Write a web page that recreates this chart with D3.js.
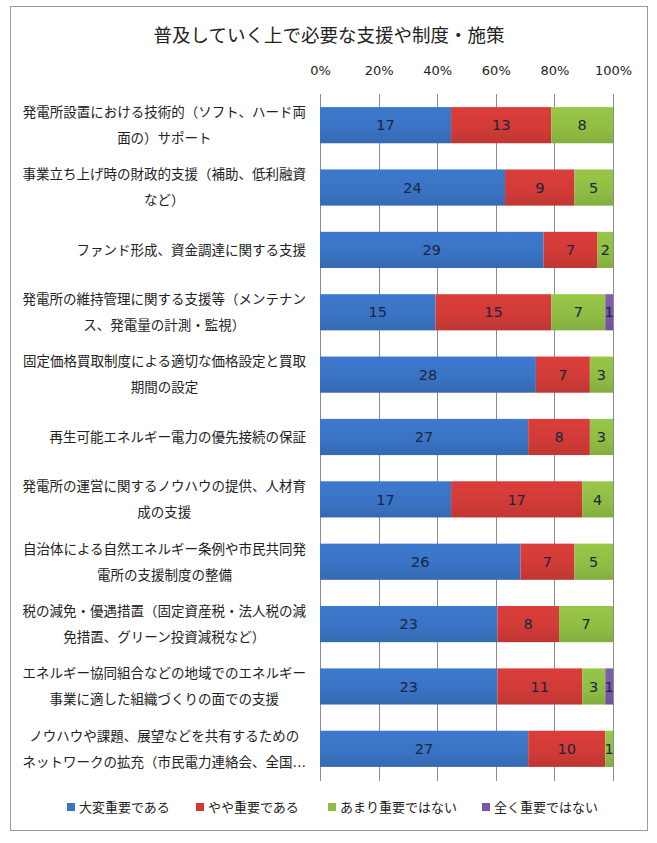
<!DOCTYPE html>
<html>
<head>
<meta charset="utf-8">
<script src="https://cdn.jsdelivr.net/npm/d3@7"></script>
<style>
  body { margin: 0; background: #fff; }
  svg text { font-family: "DejaVu Sans", "Noto Sans CJK JP", sans-serif; }
</style>
</head>
<body>
<div id="chart"></div>
<script>
// categories (label lines as shown in the picture)
const categories = [
    ["発電所設置における技術的（ソフト、ハード両", "面の）サポート"],
    ["事業立ち上げ時の財政的支援（補助、低利融資", "など）"],
    ["ファンド形成、資金調達に関する支援"],
    ["発電所の維持管理に関する支援等（メンテナン", "ス、発電量の計測・監視）"],
    ["固定価格買取制度による適切な価格設定と買取", "期間の設定"],
    ["再生可能エネルギー電力の優先接続の保証"],
    ["発電所の運営に関するノウハウの提供、人材育", "成の支援"],
    ["自治体による自然エネルギー条例や市民共同発", "電所の支援制度の整備"],
    ["税の減免・優遇措置（固定資産税・法人税の減", "免措置、グリーン投資減税など）"],
    ["エネルギー協同組合などの地域でのエネルギー", "事業に適した組織づくりの面での支援"],
    ["ノウハウや課題、展望などを共有するための", "ネットワークの拡充（市民電力連絡会、全国…"]
];
const seriesNames = ["大変重要である", "やや重要である", "あまり重要ではない", "全く重要ではない"];
const veryImportant = [17, 24, 29, 15, 28, 27, 17, 26, 23, 23, 27];
const somewhatImportant = [13, 9, 7, 15, 7, 8, 17, 7, 8, 11, 10];
const notVeryImportant = [8, 5, 2, 7, 3, 3, 4, 5, 7, 3, 1];
const notImportant = [0, 0, 0, 1, 0, 0, 0, 0, 0, 1, 0];
const tickValues = [0, 0.2, 0.4, 0.6, 0.8, 1.0];
const colors = ["#3a73c3", "#d03b37", "#8fbd44", "#7a58a6"];

const W = 657, H = 843;
const svg = d3.select("#chart").append("svg")
    .attr("width", W).attr("height", H);

// outer border
svg.append("rect")
    .attr("x", 10.5).attr("y", 6.5)
    .attr("width", 637).attr("height", 824)
    .attr("fill", "#fff").attr("stroke", "#9a9a9a").attr("stroke-width", 1);

// title
svg.append("text")
    .attr("x", 329).attr("y", 42)
    .attr("text-anchor", "middle")
    .attr("font-size", 18.5).attr("fill", "#222")
    .text("普及していく上で必要な支援や制度・施策");

// build rows with shares
const rows = categories.map((c, i) => {
    const vals = [veryImportant[i], somewhatImportant[i], notVeryImportant[i], notImportant[i]];
    const total = d3.sum(vals);
    let acc = 0;
    const segs = vals.map((v, k) => {
        const s = { k, v, x0: acc / total, x1: (acc + v) / total };
        acc += v;
        return s;
    });
    return { i, label: c, segs };
});

const x = d3.scaleLinear().domain([0, 1]).range([320, 613]);
const y = d3.scaleBand().domain(d3.range(categories.length)).range([94, 780]).paddingInner(0.42).paddingOuter(0.21);

// top axis labels
const axis = svg.append("g")
    .attr("transform", "translate(0,78)")
    .call(d3.axisTop(x).tickValues(tickValues).tickFormat(d3.format(".0%")).tickSize(0));
axis.select(".domain").remove();
axis.selectAll("text").attr("font-size", 13).attr("fill", "#222")
    .attr("font-family", "\"DejaVu Sans\", sans-serif");

// vertical gridlines
svg.append("g").selectAll("line")
    .data(tickValues)
    .join("line")
    .attr("x1", d => Math.round(x(d)) + 0.5).attr("x2", d => Math.round(x(d)) + 0.5)
    .attr("y1", 94).attr("y2", 781)
    .attr("stroke", "#8c8c8c").attr("stroke-width", 1);

// gradient per series for a little Excel-like shading
const defs = svg.append("defs");
colors.forEach((c, k) => {
    const g = defs.append("linearGradient").attr("id", "g" + k)
        .attr("x1", 0).attr("x2", 0).attr("y1", 0).attr("y2", 1);
    g.append("stop").attr("offset", "0%").attr("stop-color", d3.color(c).brighter(0.15));
    g.append("stop").attr("offset", "60%").attr("stop-color", c);
    g.append("stop").attr("offset", "100%").attr("stop-color", d3.color(c).darker(0.25));
});

// bars
const rowG = svg.append("g").selectAll("g")
    .data(rows)
    .join("g")
    .attr("transform", d => `translate(0,${y(d.i)})`);

rowG.selectAll("rect")
    .data(d => d.segs.filter(s => s.v > 0))
    .join("rect")
    .attr("x", s => x(s.x0))
    .attr("width", s => x(s.x1) - x(s.x0))
    .attr("y", 0)
    .attr("height", y.bandwidth())
    .attr("fill", s => `url(#g${s.k})`);

// data labels
rowG.selectAll("text.val")
    .data(d => d.segs.filter(s => s.v > 0))
    .join("text")
    .attr("class", "val")
    .attr("x", s => (x(s.x0) + x(s.x1)) / 2)
    .attr("y", y.bandwidth() / 2)
    .attr("dy", "0.36em")
    .attr("text-anchor", "middle")
    .attr("font-size", 14.5)
    .attr("fill", "#1c2440")
    .text(s => s.v);

// category labels: wrapped lines centred on their block, block right-aligned
const labelRight = 306;
rows.forEach(r => {
    const cy = y(r.i) + y.bandwidth() / 2;
    const g = svg.append("g");
    const n = r.label.length;
    const texts = r.label.map((line, j) => g.append("text")
        .attr("y", cy + (j - (n - 1) / 2) * 26)
        .attr("dy", "0.36em")
        .attr("font-size", 13.5)
        .attr("fill", "#222")
        .attr("text-anchor", "middle")
        .text(line));
    const maxW = d3.max(texts, t => t.node().getComputedTextLength());
    texts.forEach(t => t.attr("x", labelRight - maxW / 2));
});

// legend
const legendX = [67, 196, 328, 482];
const legend = svg.append("g").selectAll("g")
    .data(seriesNames)
    .join("g")
    .attr("transform", (d, k) => `translate(${legendX[k]},807)`);
legend.append("rect")
    .attr("x", 0).attr("y", -4).attr("width", 8).attr("height", 8)
    .attr("fill", (d, k) => colors[k]);
legend.append("text")
    .attr("x", 12).attr("dy", "0.36em")
    .attr("font-size", 13).attr("fill", "#222")
    .text(d => d);
</script>
</body>
</html>
